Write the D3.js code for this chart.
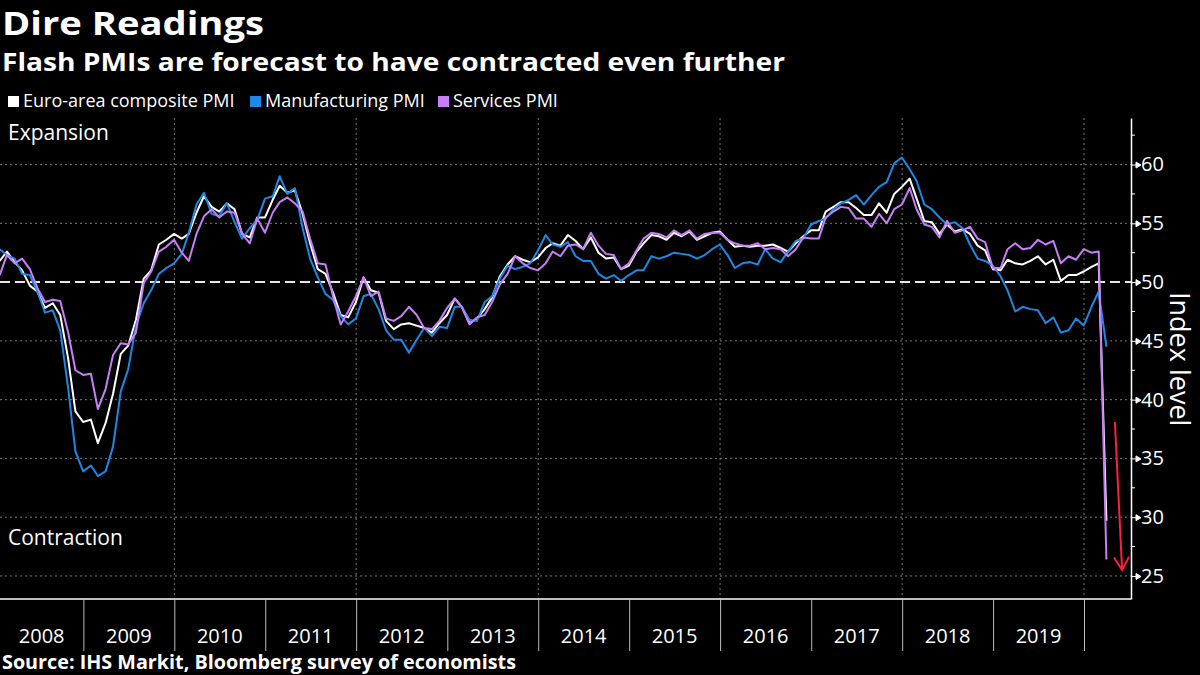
<!DOCTYPE html>
<html><head><meta charset="utf-8">
<script src="https://cdn.jsdelivr.net/npm/d3@7"></script>
<style>
html,body{margin:0;padding:0;background:#000;}
svg{display:block;font-family:"Open Sans",sans-serif;}
</style>
</head><body>
<svg id="chart" width="1200" height="675"></svg>
<script>
// ---------------- data ----------------
const startYear = 2008; // monthly, month-end, Jan 2008 .. Mar 2020
const years = [2008,2009,2010,2011,2012,2013,2014,2015,2016,2017,2018,2019];
const gridYears = [2010,2012,2014,2016,2018,2020];
const yTicks = [25,30,35,40,45,50,55,60];
const yMinorTicks = [27.5,32.5,37.5,42.5,47.5,52.5,57.5,62.5];
const seriesNames = ["Euro-area composite PMI","Manufacturing PMI","Services PMI"];
const seriesColors = ["#ffffff","#1e88e5","#c77ef6"];

const composite = [
 51.8,52.6,51.7,51.0,49.7,49.2,47.8,48.2,47.2,43.6,39.0,38.1,
 38.3,36.3,38.0,40.5,43.9,44.6,46.8,50.3,51.0,53.2,53.6,54.1,
 53.7,54.1,55.9,57.3,56.4,56.0,56.7,56.2,54.1,53.8,55.5,55.5,
 57.0,58.2,57.6,57.8,55.8,53.3,51.1,50.7,49.1,47.2,47.0,48.3,
 50.4,49.3,49.1,46.7,46.0,46.4,46.5,46.3,46.1,45.7,46.5,47.2,
 48.6,47.9,46.5,46.9,47.7,48.7,50.5,51.5,52.2,51.9,51.7,52.1,
 52.9,53.3,53.1,54.0,53.5,52.8,53.8,52.5,52.0,52.1,51.1,51.4,
 52.6,53.3,54.0,53.9,53.6,54.2,53.9,54.3,53.6,53.9,54.2,54.3,
 53.6,53.0,53.1,53.0,53.1,53.1,53.2,52.9,52.6,53.3,53.9,54.4,
 54.4,56.0,56.4,56.8,56.8,56.3,55.7,55.7,56.7,55.9,57.5,58.1,
 58.8,57.1,55.2,55.1,54.1,54.9,54.3,54.5,54.1,53.1,52.7,51.1,
 51.0,51.9,51.6,51.5,51.8,52.2,51.5,51.9,50.1,50.6,50.6,50.9,
 51.3,51.6,29.7
];
const manufacturing = [
 52.8,52.3,52.0,50.7,50.6,49.2,47.4,47.6,45.9,41.1,35.6,33.9,
 34.4,33.5,33.9,36.0,40.7,42.6,46.3,48.2,49.3,50.7,51.2,51.6,
 52.4,54.2,56.6,57.6,55.8,55.6,56.7,55.1,53.7,54.6,55.3,57.1,
 57.3,59.0,57.5,58.0,54.6,52.0,50.4,49.0,48.5,47.1,46.4,46.9,
 48.8,49.0,47.7,45.9,45.1,45.1,44.0,45.1,46.1,45.4,46.2,46.1,
 47.9,47.9,46.8,46.7,48.3,48.8,50.3,51.4,51.1,51.3,51.6,52.7,
 54.0,53.2,53.0,53.4,52.2,51.8,51.8,50.7,50.3,50.6,50.1,50.6,
 51.0,51.0,52.2,52.0,52.2,52.5,52.4,52.3,52.0,52.3,52.8,53.2,
 52.3,51.2,51.6,51.7,51.5,52.8,52.0,51.7,52.6,53.5,53.7,54.9,
 55.2,55.4,56.2,56.7,57.0,57.4,56.6,57.4,58.1,58.5,60.1,60.6,
 59.6,58.6,56.6,56.2,55.5,54.9,55.1,54.6,53.2,52.0,51.8,51.4,
 50.5,49.3,47.5,47.9,47.7,47.6,46.5,47.0,45.7,45.9,46.9,46.3,
 47.9,49.2,44.5
];
const services = [
 50.6,52.3,51.6,52.0,51.1,49.5,48.3,48.5,48.4,45.8,42.5,42.1,
 42.2,39.2,40.9,43.8,44.8,44.7,45.7,49.9,50.9,52.6,53.0,53.6,
 52.5,51.8,54.1,55.6,56.2,55.5,56.0,55.9,54.1,53.3,55.4,54.2,
 55.9,56.8,57.2,56.7,56.0,53.7,51.6,51.5,48.8,46.4,47.5,48.8,
 50.4,48.8,49.2,46.9,46.7,47.1,47.9,47.2,46.1,46.0,46.7,47.8,
 48.6,47.9,46.4,47.0,47.2,48.3,49.8,50.7,52.2,51.6,51.2,51.0,
 51.6,52.6,52.2,53.1,53.2,52.8,54.2,53.1,52.4,52.3,51.1,51.6,
 52.7,53.7,54.2,54.1,53.8,54.4,54.0,54.4,53.7,54.1,54.2,54.2,
 53.6,53.3,53.1,53.1,53.3,52.8,52.9,52.8,52.2,52.8,53.8,53.7,
 53.7,55.5,56.0,56.4,56.3,55.4,55.4,54.7,55.8,55.0,56.2,56.6,
 58.0,56.2,54.9,54.7,53.8,55.2,54.2,54.4,54.7,53.7,53.4,51.2,
 51.2,52.8,53.3,52.8,52.9,53.6,53.2,53.5,51.6,52.2,51.9,52.8,
 52.5,52.6,26.4
];
// forecast arrow annotation (date, value)
const arrowStart = ["2020-05-04", 38.1];
const arrowEnd   = ["2020-06-02", 25.5];

// ---------------- chart ----------------
const svg = d3.select("#chart");
svg.append("rect").attr("width",1200).attr("height",675).attr("fill","#000");

const plotLeft = 0, plotRight = 1131, plotTop = 118, plotBottom = 599;

const x = d3.scaleUtc()
  .domain([new Date(Date.UTC(2009,0,1)), new Date(Date.UTC(2020,0,1))])
  .range([83.4, 1084]);
const y = d3.scaleLinear().domain([23.04, 63.96]).range([plotBottom, plotTop]);

const monthEnd = i => new Date(Date.UTC(startYear, i + 1, 0));

// title + subtitle
svg.append("text").attr("x",2).attr("y",35).attr("font-size",32).attr("fill","#fff").attr("font-weight",700)
  .attr("textLength",262).attr("lengthAdjust","spacingAndGlyphs").text("Dire Readings");
svg.append("text").attr("x",2).attr("y",71).attr("font-size",25).attr("fill","#fff").attr("font-weight",700)
  .attr("textLength",783).attr("lengthAdjust","spacingAndGlyphs").text("Flash PMIs are forecast to have contracted even further");

// legend
const legendX = [8, 250, 438];
seriesNames.forEach((n,i)=>{
  const g = svg.append("g").attr("transform",`translate(${legendX[i]},0)`);
  g.append("rect").attr("x",0).attr("y",96).attr("width",11).attr("height",11).attr("fill",seriesColors[i]);
  g.append("text").attr("x",15).attr("y",107).attr("fill","#fff").attr("font-size",18).text(n);
});

// grid
const grid = svg.append("g");
grid.selectAll("line.h").data(yTicks.filter(t=>t!==50)).join("line")
  .attr("x1",plotLeft).attr("x2",plotRight)
  .attr("y1",d=>y(d)).attr("y2",d=>y(d))
  .attr("stroke","#7a7a7a").attr("stroke-width",1).attr("stroke-dasharray","2,3");
grid.selectAll("line.v").data(gridYears).join("line")
  .attr("x1",d=>x(new Date(Date.UTC(d,0,1)))).attr("x2",d=>x(new Date(Date.UTC(d,0,1))))
  .attr("y1",plotTop).attr("y2",plotBottom)
  .attr("stroke","#7a7a7a").attr("stroke-width",1).attr("stroke-dasharray","2,3");

// 50 line
svg.append("line").attr("x1",plotLeft).attr("x2",plotRight)
  .attr("y1",y(50)).attr("y2",y(50))
  .attr("stroke","#e6e6e6").attr("stroke-width",2).attr("stroke-dasharray","10,5");

// expansion/contraction labels
svg.append("text").attr("x",8).attr("y",140).attr("fill","#fff").attr("font-size",21).text("Expansion");
svg.append("text").attr("x",8).attr("y",545).attr("fill","#fff").attr("font-size",21).text("Contraction");

// lines
const line = d3.line().x((d,i)=>x(monthEnd(i))).y(d=>y(d));
[composite, manufacturing, services].forEach((s,i)=>{
  svg.append("path").datum(s).attr("d",line).attr("fill","none")
    .attr("stroke",seriesColors[i]).attr("stroke-width",2).attr("stroke-linejoin","round");
});

// red arrow
const ax0 = x(new Date(arrowStart[0])), ay0 = y(arrowStart[1]);
const ax1 = x(new Date(arrowEnd[0])), ay1 = y(arrowEnd[1]);
const ang = Math.atan2(ay0-ay1, ax0-ax1);
const hl = 15, ha = Math.PI/6;
const arrow = svg.append("g").attr("stroke","#ff1e3c").attr("stroke-width",2).attr("fill","none");
arrow.append("line").attr("x1",ax0).attr("y1",ay0).attr("x2",ax1).attr("y2",ay1);
arrow.append("path").attr("d",
  `M${ax1+hl*Math.cos(ang+ha)},${ay1+hl*Math.sin(ang+ha)}L${ax1},${ay1}L${ax1+hl*Math.cos(ang-ha)},${ay1+hl*Math.sin(ang-ha)}`);

// y axis
const yAxis = d3.axisRight(y).tickValues(yTicks).tickSize(0).tickPadding(10);
const gy = svg.append("g").attr("transform",`translate(${plotRight},0)`).call(yAxis);
gy.select(".domain").attr("stroke","#fff").attr("stroke-width",1.5);
gy.selectAll(".tick text").attr("fill","#fff").attr("font-size",20).attr("font-family","Open Sans");
gy.selectAll(".tick").append("path").attr("d","M0,0H6M5,-3L10,0L5,3Z").attr("stroke","#fff").attr("fill","#fff").attr("stroke-width",1);
gy.selectAll("line.minor").data(yMinorTicks).join("line").attr("class","minor")
  .attr("x1",0).attr("x2",4).attr("y1",d=>y(d)).attr("y2",d=>y(d)).attr("stroke","#fff").attr("stroke-width",1);

svg.append("text").attr("transform","translate(1170,292) rotate(90)")
  .attr("fill","#fff").attr("font-size",27).text("Index level");

// x axis
svg.append("line").attr("x1",plotLeft).attr("x2",plotRight).attr("y1",plotBottom).attr("y2",plotBottom)
  .attr("stroke","#fff").attr("stroke-width",1.5);
const sepYears = years.slice(1).concat([2020]);
const xAxis = d3.axisBottom(x).tickValues(sepYears.map(yr=>new Date(Date.UTC(yr,0,1)))).tickSize(52).tickFormat("");
const gx = svg.append("g").attr("transform",`translate(0,${plotBottom})`).call(xAxis);
gx.select(".domain").remove();
gx.selectAll(".tick line").attr("stroke","#bbb").attr("stroke-width",1);
svg.append("g").selectAll("text").data(years).join("text")
  .attr("x",d=>{const a=Math.max(plotLeft,x(new Date(Date.UTC(d,0,1)))), b=x(new Date(Date.UTC(d+1,0,1))); return (a+b)/2;})
  .attr("y",643).attr("text-anchor","middle").attr("fill","#fff").attr("font-size",20).text(d=>d);

// source
svg.append("text").attr("x",2).attr("y",669).attr("fill","#fff").attr("font-size",18.8).attr("font-weight",700)
  .attr("textLength",514).attr("lengthAdjust","spacingAndGlyphs")
  .text("Source: IHS Markit, Bloomberg survey of economists");
</script>
</body></html>
